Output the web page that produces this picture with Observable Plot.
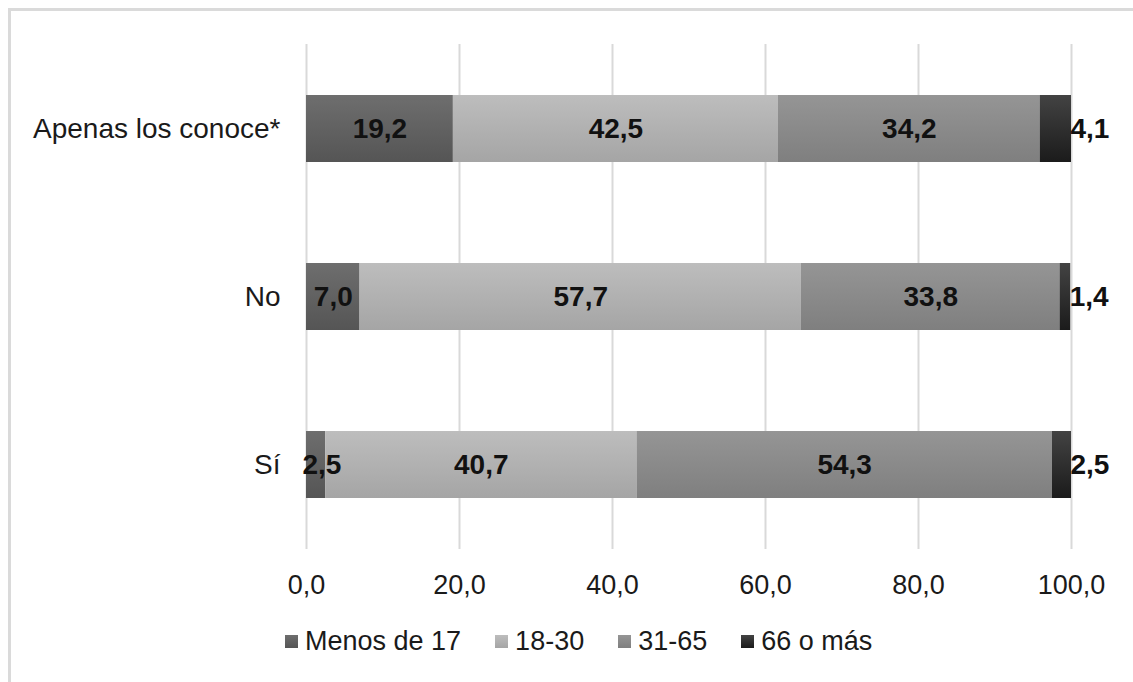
<!DOCTYPE html>
<html>
<head>
<meta charset="utf-8">
<script src="https://cdn.jsdelivr.net/npm/d3@7"></script>
<script src="https://cdn.jsdelivr.net/npm/@observablehq/plot@0.6"></script>
<style>
  html, body { margin: 0; padding: 0; background: #fff; width: 1133px; height: 682px; overflow: hidden; }
  #frame { position: absolute; left: 8px; top: 8px; width: 1300px; height: 900px; border-top: 3px solid #dadada; border-left: 3px solid #dadada; box-sizing: border-box; }
  #chart { position: absolute; left: 0; top: 0; }
  #legend { position: absolute; left: 285px; top: 626px; display: flex; align-items: center;
            font-family: "Liberation Sans", Arial, sans-serif; font-size: 27px; color: #1a1a1a; white-space: nowrap; }
  #legend .item { display: flex; align-items: center; margin-right: 34px; }
  #legend .sw { width: 13px; height: 13px; margin-right: 7px; }
</style>
</head>
<body>
<div id="frame"></div>
<div id="chart"></div>
<div id="legend"></div>
<script>
// ---- Data ----
const categories = ["Apenas los conoce*", "No", "Sí"];
const series = ["Menos de 17", "18-30", "31-65", "66 o más"];
const menos17 = [19.2, 7.0, 2.5];
const s18_30 = [42.5, 57.7, 40.7];
const s31_65 = [34.2, 33.8, 54.3];
const s66mas = [4.1, 1.4, 2.5];
const xTicks = [0, 20, 40, 60, 80, 100];

// gradient colours (top, bottom) per series
const gradTop = ["#6e6e6e", "#bdbdbd", "#959595", "#434343"];
const gradBottom = ["#555555", "#a5a5a5", "#7f7f7f", "#1b1b1b"];
const gradIds = ["gMenos", "g1830", "g3165", "g66"];

const seriesValues = [menos17, s18_30, s31_65, s66mas];
const data = categories.flatMap((cat, i) =>
  series.map((s, j) => ({ cat, series: s, value: seriesValues[j][i] }))
);

const fmt = v => d3.format(".1f")(v).replace(".", ",");
const firstS = series[0], lastS = series[series.length - 1];
const isStartLabel = d => d.series === firstS && d.value < 5;
const isEndLabel = d => d.series === lastS;

const labelStyle = { fontWeight: "bold", fontSize: 28, fill: "#111" };

const chart = Plot.plot({
  width: 1133,
  height: 610,
  marginLeft: 306,
  marginRight: 62,
  marginTop: 44,
  marginBottom: 61,
  style: { fontFamily: "'Liberation Sans', Arial, sans-serif", fontSize: "27px", color: "#1a1a1a", background: "transparent", overflow: "visible" },
  x: { domain: [0, 100], label: null },
  y: { domain: categories, paddingInner: 0.6, paddingOuter: 0.3, label: null },
  color: { type: "ordinal", domain: series, range: gradIds.map(id => `url(#${id})`) },
  marks: [
    Plot.gridX(xTicks, { stroke: "#d9d9d9", strokeOpacity: 1, strokeWidth: 2 }),
    Plot.barX(data, Plot.stackX({ x: "value", y: "cat", fill: "series" })),
    Plot.text(data, Plot.stackX({ x: "value", y: "cat", text: d => (isStartLabel(d) || isEndLabel(d)) ? "" : fmt(d.value), ...labelStyle })),
    Plot.text(data, Plot.stackX1({ x: "value", y: "cat", text: d => isStartLabel(d) ? fmt(d.value) : "", textAnchor: "start", dx: -4, ...labelStyle })),
    Plot.text(data, Plot.stackX2({ x: "value", y: "cat", text: d => isEndLabel(d) ? fmt(d.value) : "", textAnchor: "start", dx: -1, ...labelStyle })),
    Plot.axisX({ ticks: xTicks, tickSize: 0, tickPadding: 25, tickFormat: fmt, label: null, fontSize: 27 }),
    Plot.axisY({ tickSize: 0, tickPadding: 26, label: null, fontSize: 28 })
  ]
});

// gradients
const svg = d3.select(chart.tagName.toLowerCase() === "svg" ? chart : chart.querySelector("svg"));
const defs = svg.insert("defs", ":first-child");
gradIds.forEach((id, i) => {
  const g = defs.append("linearGradient").attr("id", id).attr("x1", 0).attr("y1", 0).attr("x2", 0).attr("y2", 1);
  g.append("stop").attr("offset", "0%").attr("stop-color", gradTop[i]);
  g.append("stop").attr("offset", "100%").attr("stop-color", gradBottom[i]);
});

document.getElementById("chart").appendChild(chart);

// legend
const legend = d3.select("#legend");
series.forEach((s, i) => {
  const item = legend.append("div").attr("class", "item");
  item.append("div").attr("class", "sw").style("background", `linear-gradient(${gradTop[i]}, ${gradBottom[i]})`);
  item.append("span").text(s);
});
</script>
</body>
</html>
